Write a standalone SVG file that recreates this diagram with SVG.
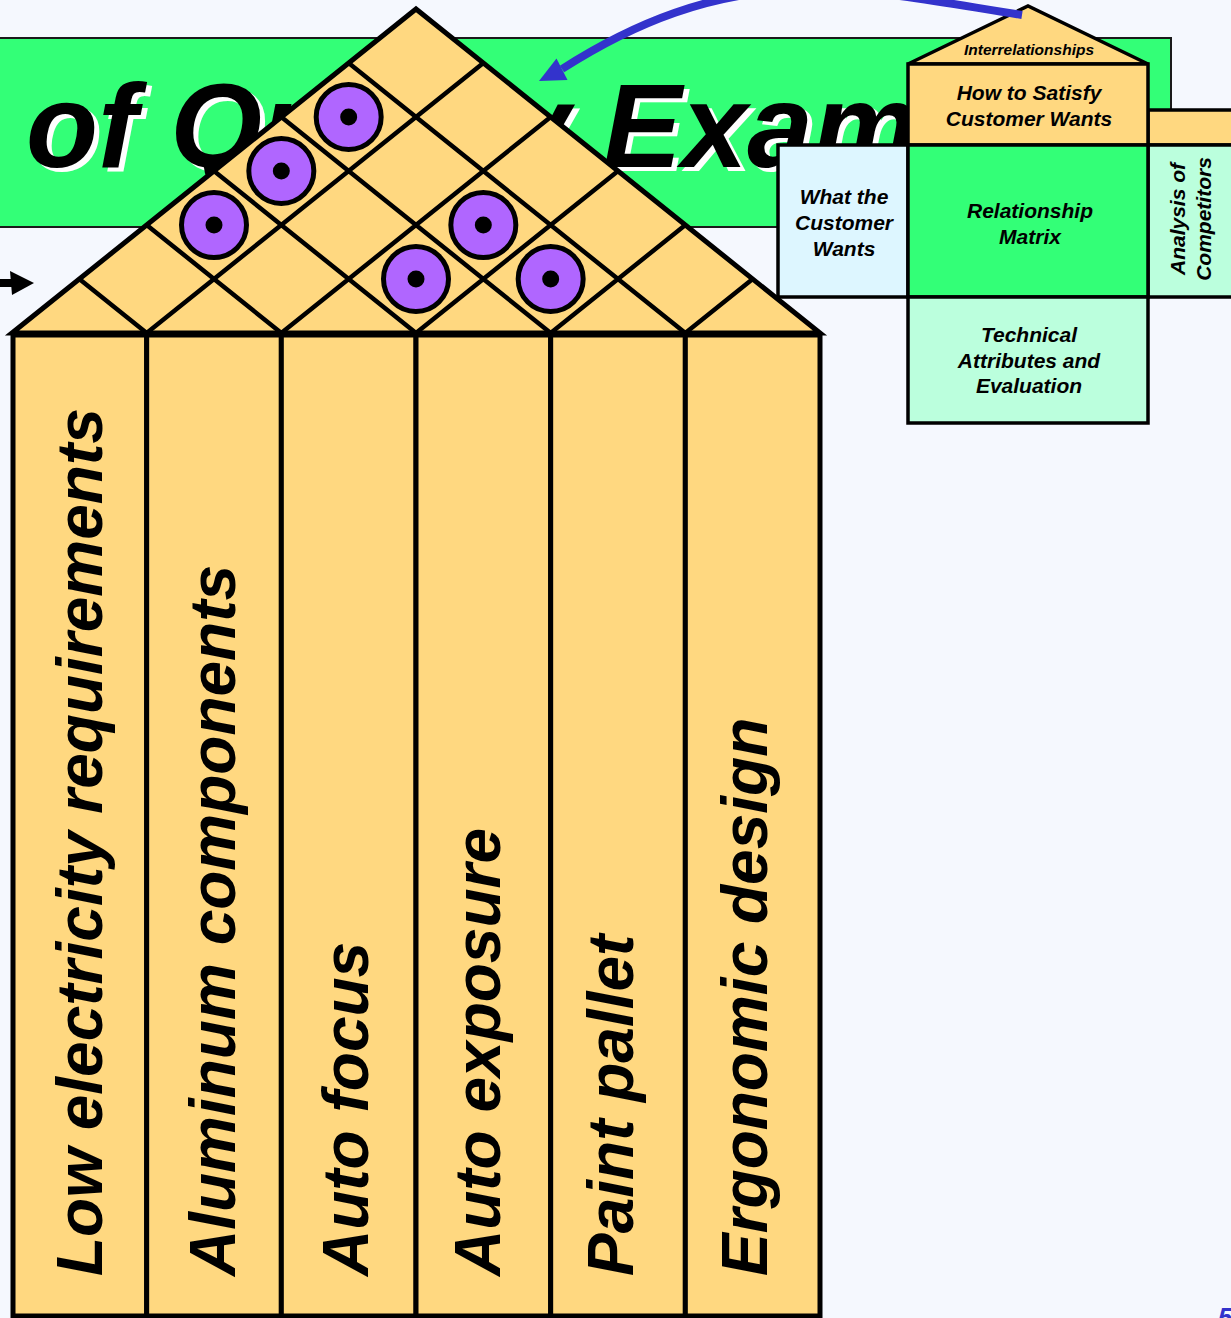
<svg xmlns="http://www.w3.org/2000/svg" width="1231" height="1318" viewBox="0 0 1231 1318">
  <style>
    .bi { font-family: "Liberation Sans", Arial, sans-serif; font-weight: bold; font-style: italic; }
    .peach { fill: #FFD880; }
    .edge { stroke: #000; stroke-width: 5; stroke-linejoin: miter; }
    .thin { stroke: #000; stroke-width: 3.5; }
    .lattice { fill: none; stroke: #000; stroke-width: 4.5; stroke-linecap: butt; }
    .dot-ring { fill: #B066FF; stroke: #000; stroke-width: 5; }
    .col-label { font-size: 64px; fill: #000; }
    .mini { font-size: 21px; fill: #000; text-anchor: middle; }
  </style>

  <!-- page background -->
  <rect x="0" y="0" width="1231" height="1318" fill="#F5F8FE"/>

  <!-- title banner -->
  <g id="title-banner">
    <rect x="-10" y="38" width="1181" height="189" fill="#33FF77" stroke="#1a1a1a" stroke-width="2"/>
    <text class="bi" x="31" y="171" font-size="118" fill="#FFFFFF">of Quality Example</text>
    <text class="bi" x="26" y="167" font-size="118" fill="#000000">of Quality Example</text>
  </g>

  <!-- correlation roof with relationship symbols -->
  <g id="roof">
    <polygon class="peach edge" points="12,333 416,9 820,333"/>
    <path class="lattice" d="
      M146.67,333 L79.33,279 M281.33,333 L146.67,225 M416,333 L214,171
      M550.67,333 L281.33,117 M685.33,333 L348.67,63
      M146.67,333 L483.33,63 M281.33,333 L550.67,117 M416,333 L618,171
      M550.67,333 L685.33,225 M685.33,333 L752.67,279"/>
    <g id="roof-symbols">
      <circle class="dot-ring" cx="348.67" cy="117" r="32.5"/><circle cx="348.67" cy="117" r="8.5"/>
      <circle class="dot-ring" cx="281.33" cy="171" r="32.5"/><circle cx="281.33" cy="171" r="8.5"/>
      <circle class="dot-ring" cx="214" cy="225" r="32.5"/><circle cx="214" cy="225" r="8.5"/>
      <circle class="dot-ring" cx="483.33" cy="225" r="32.5"/><circle cx="483.33" cy="225" r="8.5"/>
      <circle class="dot-ring" cx="416" cy="279" r="32.5"/><circle cx="416" cy="279" r="8.5"/>
      <circle class="dot-ring" cx="550.67" cy="279" r="32.5"/><circle cx="550.67" cy="279" r="8.5"/>
    </g>
  </g>

  <!-- technical requirement columns -->
  <g id="col-low-electricity">
    <rect class="peach edge" x="13" y="335" width="133.67" height="981"/>
    <text class="bi col-label" transform="translate(102,1276) rotate(-90)">Low electricity requirements</text>
  </g>
  <g id="col-aluminum">
    <rect class="peach edge" x="146.67" y="335" width="134.67" height="981"/>
    <text class="bi col-label" transform="translate(235,1276) rotate(-90)">Aluminum components</text>
  </g>
  <g id="col-auto-focus">
    <rect class="peach edge" x="281.33" y="335" width="134.67" height="981"/>
    <text class="bi col-label" transform="translate(368,1276) rotate(-90)">Auto focus</text>
  </g>
  <g id="col-auto-exposure">
    <rect class="peach edge" x="416" y="335" width="134.67" height="981"/>
    <text class="bi col-label" transform="translate(500,1276) rotate(-90)">Auto exposure</text>
  </g>
  <g id="col-paint-pallet">
    <rect class="peach edge" x="550.67" y="335" width="134.67" height="981"/>
    <text class="bi col-label" transform="translate(633,1276) rotate(-90)">Paint pallet</text>
  </g>
  <g id="col-ergonomic">
    <rect class="peach edge" x="685.33" y="335" width="134.67" height="981"/>
    <text class="bi col-label" transform="translate(767,1276) rotate(-90)">Ergonomic design</text>
  </g>

  <!-- small house-of-quality key -->
  <g id="key-competitors">
    <rect class="peach thin" x="1148" y="110" width="100" height="35"/>
    <rect class="thin" x="1148" y="145" width="100" height="152" fill="#BBFFDD"/>
    <text class="bi mini" transform="translate(1185,219) rotate(-90)">Analysis of</text>
    <text class="bi mini" transform="translate(1211,219) rotate(-90)">Competitors</text>
  </g>
  <g id="key-customer-wants">
    <rect class="thin" x="778" y="145" width="130" height="152" fill="#DDF6FF"/>
    <text class="bi mini" x="844" y="204">What the</text>
    <text class="bi mini" x="844" y="230">Customer</text>
    <text class="bi mini" x="844" y="256">Wants</text>
  </g>
  <g id="key-interrelationships">
    <polygon class="peach thin" points="908,64 1028,6 1148,64"/>
    <text class="bi" x="1029" y="55" font-size="15.5" text-anchor="middle">Interrelationships</text>
  </g>
  <g id="key-how">
    <rect class="peach thin" x="908" y="64" width="240" height="81"/>
    <text class="bi mini" x="1029" y="100">How to Satisfy</text>
    <text class="bi mini" x="1029" y="126">Customer Wants</text>
  </g>
  <g id="key-matrix">
    <rect class="thin" x="908" y="145" width="240" height="152" fill="#33FF77"/>
    <text class="bi mini" x="1030" y="218">Relationship</text>
    <text class="bi mini" x="1030" y="244">Matrix</text>
  </g>
  <g id="key-technical">
    <rect class="thin" x="908" y="297" width="240" height="126" fill="#BBFFDD"/>
    <text class="bi mini" x="1029" y="342">Technical</text>
    <text class="bi mini" x="1029" y="368">Attributes and</text>
    <text class="bi mini" x="1029" y="393">Evaluation</text>
  </g>

  <!-- page number -->
  <text class="bi" x="1218" y="1326" font-size="26" fill="#3333CC">5</text>

  <!-- connectors -->
  <g id="connectors">
    <path d="M1022,15 C860,-10 740,-45 562,69" fill="none" stroke="#3333CC" stroke-width="8"/>
    <polygon points="539,81 556.5,58.5 567.5,80" fill="#3333CC"/>
    <line x1="-5" y1="283" x2="16" y2="283" stroke="#000" stroke-width="8"/>
    <polygon points="10,271 34,283 12,295" fill="#000"/>
  </g>
</svg>
